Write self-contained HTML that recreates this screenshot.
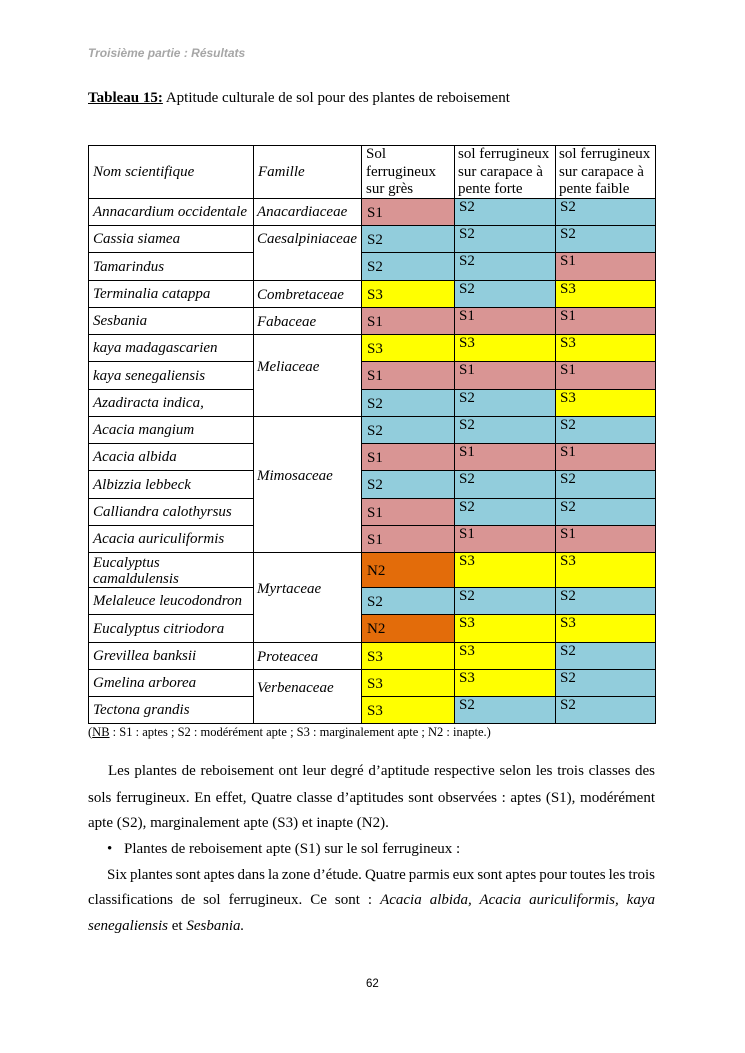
<!DOCTYPE html>
<html><head><meta charset="utf-8">
<style>
html,body{margin:0;padding:0;background:#fff;}
body{width:745px;height:1053px;position:relative;overflow:hidden;font-family:"Liberation Serif",serif;color:#000;}
.c{position:absolute;box-sizing:border-box;border:1px solid #000;font-size:15px;}
.n{display:flex;align-items:center;padding-left:4px;padding-top:1px;font-style:italic;white-space:nowrap;line-height:15px;}
.m{display:flex;align-items:center;padding-left:5px;padding-top:1px;white-space:nowrap;line-height:16px;}
.p{padding-left:4px;padding-top:0px;white-space:nowrap;line-height:16px;}
.s1{background:#D99594;}
.s2{background:#92CDDC;}
.s3{background:#FFFF00;}
.n2{background:#E36C0A;}
.f{position:absolute;left:257px;font-size:15px;font-style:italic;white-space:nowrap;line-height:16px;}
.ln{position:absolute;font-size:15px;line-height:26px;white-space:nowrap;}
.j{text-align:justify;text-align-last:justify;}
</style></head>
<body>
<div style="position:absolute;left:88px;top:46px;font-family:'Liberation Sans',sans-serif;font-size:12px;font-weight:bold;font-style:italic;color:#a6a6a6;white-space:nowrap;">Troisième partie : Résultats</div>

<div style="position:absolute;left:88px;top:89px;font-size:15px;white-space:nowrap;line-height:18px;"><b><u>Tableau 15:</u></b> Aptitude culturale de sol pour des plantes de reboisement</div>

<!-- header -->
<div class="c" style="left:88px;top:145px;width:166px;height:54px;display:flex;align-items:center;padding-left:4px;font-style:italic;">Nom scientifique</div>
<div class="c" style="left:253px;top:145px;width:109px;height:54px;display:flex;align-items:center;padding-left:4px;font-style:italic;">Famille</div>
<div class="c" style="left:361px;top:145px;width:94px;height:54px;padding-left:4px;line-height:17.5px;">Sol<br>ferrugineux<br>sur grès</div>
<div class="c" style="left:454px;top:145px;width:102px;height:54px;padding-left:3px;line-height:17.5px;white-space:nowrap;">sol ferrugineux<br>sur carapace à<br>pente forte</div>
<div class="c" style="left:555px;top:145px;width:101px;height:54px;padding-left:3px;line-height:17.5px;white-space:nowrap;">sol ferrugineux<br>sur carapace à<br>pente faible</div>

<!-- rows -->
<div class="c n" style="left:88px;top:198px;width:166px;height:28px;">Annacardium occidentale</div>
<div class="c m s1" style="left:361px;top:198px;width:94px;height:28px;">S1</div>
<div class="c p s2" style="left:454px;top:198px;width:102px;height:28px;">S2</div>
<div class="c p s2" style="left:555px;top:198px;width:101px;height:28px;">S2</div>

<div class="c n" style="left:88px;top:225px;width:166px;height:28px;">Cassia siamea</div>
<div class="c m s2" style="left:361px;top:225px;width:94px;height:28px;">S2</div>
<div class="c p s2" style="left:454px;top:225px;width:102px;height:28px;">S2</div>
<div class="c p s2" style="left:555px;top:225px;width:101px;height:28px;">S2</div>

<div class="c n" style="left:88px;top:252px;width:166px;height:29px;">Tamarindus</div>
<div class="c m s2" style="left:361px;top:252px;width:94px;height:29px;">S2</div>
<div class="c p s2" style="left:454px;top:252px;width:102px;height:29px;">S2</div>
<div class="c p s1" style="left:555px;top:252px;width:101px;height:29px;">S1</div>

<div class="c n" style="left:88px;top:280px;width:166px;height:28px;">Terminalia catappa</div>
<div class="c m s3" style="left:361px;top:280px;width:94px;height:28px;">S3</div>
<div class="c p s2" style="left:454px;top:280px;width:102px;height:28px;">S2</div>
<div class="c p s3" style="left:555px;top:280px;width:101px;height:28px;">S3</div>

<div class="c n" style="left:88px;top:307px;width:166px;height:28px;">Sesbania</div>
<div class="c m s1" style="left:361px;top:307px;width:94px;height:28px;">S1</div>
<div class="c p s1" style="left:454px;top:307px;width:102px;height:28px;">S1</div>
<div class="c p s1" style="left:555px;top:307px;width:101px;height:28px;">S1</div>

<div class="c n" style="left:88px;top:334px;width:166px;height:28px;">kaya madagascarien</div>
<div class="c m s3" style="left:361px;top:334px;width:94px;height:28px;">S3</div>
<div class="c p s3" style="left:454px;top:334px;width:102px;height:28px;">S3</div>
<div class="c p s3" style="left:555px;top:334px;width:101px;height:28px;">S3</div>

<div class="c n" style="left:88px;top:361px;width:166px;height:29px;">kaya senegaliensis</div>
<div class="c m s1" style="left:361px;top:361px;width:94px;height:29px;">S1</div>
<div class="c p s1" style="left:454px;top:361px;width:102px;height:29px;">S1</div>
<div class="c p s1" style="left:555px;top:361px;width:101px;height:29px;">S1</div>

<div class="c n" style="left:88px;top:389px;width:166px;height:28px;">Azadiracta indica,</div>
<div class="c m s2" style="left:361px;top:389px;width:94px;height:28px;">S2</div>
<div class="c p s2" style="left:454px;top:389px;width:102px;height:28px;">S2</div>
<div class="c p s3" style="left:555px;top:389px;width:101px;height:28px;">S3</div>

<div class="c n" style="left:88px;top:416px;width:166px;height:28px;">Acacia mangium</div>
<div class="c m s2" style="left:361px;top:416px;width:94px;height:28px;">S2</div>
<div class="c p s2" style="left:454px;top:416px;width:102px;height:28px;">S2</div>
<div class="c p s2" style="left:555px;top:416px;width:101px;height:28px;">S2</div>

<div class="c n" style="left:88px;top:443px;width:166px;height:28px;">Acacia albida</div>
<div class="c m s1" style="left:361px;top:443px;width:94px;height:28px;">S1</div>
<div class="c p s1" style="left:454px;top:443px;width:102px;height:28px;">S1</div>
<div class="c p s1" style="left:555px;top:443px;width:101px;height:28px;">S1</div>

<div class="c n" style="left:88px;top:470px;width:166px;height:29px;">Albizzia lebbeck</div>
<div class="c m s2" style="left:361px;top:470px;width:94px;height:29px;">S2</div>
<div class="c p s2" style="left:454px;top:470px;width:102px;height:29px;">S2</div>
<div class="c p s2" style="left:555px;top:470px;width:101px;height:29px;">S2</div>

<div class="c n" style="left:88px;top:498px;width:166px;height:28px;">Calliandra calothyrsus</div>
<div class="c m s1" style="left:361px;top:498px;width:94px;height:28px;">S1</div>
<div class="c p s2" style="left:454px;top:498px;width:102px;height:28px;">S2</div>
<div class="c p s2" style="left:555px;top:498px;width:101px;height:28px;">S2</div>

<div class="c n" style="left:88px;top:525px;width:166px;height:28px;">Acacia auriculiformis</div>
<div class="c m s1" style="left:361px;top:525px;width:94px;height:28px;">S1</div>
<div class="c p s1" style="left:454px;top:525px;width:102px;height:28px;">S1</div>
<div class="c p s1" style="left:555px;top:525px;width:101px;height:28px;">S1</div>

<div class="c" style="left:88px;top:552px;width:166px;height:36px;padding-left:4px;padding-top:2px;font-style:italic;line-height:16px;white-space:nowrap;">Eucalyptus<br>camaldulensis</div>
<div class="c m n2" style="left:361px;top:552px;width:94px;height:36px;">N2</div>
<div class="c p s3" style="left:454px;top:552px;width:102px;height:36px;">S3</div>
<div class="c p s3" style="left:555px;top:552px;width:101px;height:36px;">S3</div>

<div class="c n" style="left:88px;top:587px;width:166px;height:28px;">Melaleuce leucodondron</div>
<div class="c m s2" style="left:361px;top:587px;width:94px;height:28px;">S2</div>
<div class="c p s2" style="left:454px;top:587px;width:102px;height:28px;">S2</div>
<div class="c p s2" style="left:555px;top:587px;width:101px;height:28px;">S2</div>

<div class="c n" style="left:88px;top:614px;width:166px;height:29px;">Eucalyptus citriodora</div>
<div class="c m n2" style="left:361px;top:614px;width:94px;height:29px;">N2</div>
<div class="c p s3" style="left:454px;top:614px;width:102px;height:29px;">S3</div>
<div class="c p s3" style="left:555px;top:614px;width:101px;height:29px;">S3</div>

<div class="c n" style="left:88px;top:642px;width:166px;height:28px;">Grevillea banksii</div>
<div class="c m s3" style="left:361px;top:642px;width:94px;height:28px;">S3</div>
<div class="c p s3" style="left:454px;top:642px;width:102px;height:28px;">S3</div>
<div class="c p s2" style="left:555px;top:642px;width:101px;height:28px;">S2</div>

<div class="c n" style="left:88px;top:669px;width:166px;height:28px;">Gmelina arborea</div>
<div class="c m s3" style="left:361px;top:669px;width:94px;height:28px;">S3</div>
<div class="c p s3" style="left:454px;top:669px;width:102px;height:28px;">S3</div>
<div class="c p s2" style="left:555px;top:669px;width:101px;height:28px;">S2</div>

<div class="c n" style="left:88px;top:696px;width:166px;height:28px;">Tectona grandis</div>
<div class="c m s3" style="left:361px;top:696px;width:94px;height:28px;">S3</div>
<div class="c p s2" style="left:454px;top:696px;width:102px;height:28px;">S2</div>
<div class="c p s2" style="left:555px;top:696px;width:101px;height:28px;">S2</div>

<!-- family cells -->
<div class="c" style="left:253px;top:198px;width:109px;height:28px;"></div>
<div class="c" style="left:253px;top:225px;width:109px;height:56px;"></div>
<div class="c" style="left:253px;top:280px;width:109px;height:28px;"></div>
<div class="c" style="left:253px;top:307px;width:109px;height:28px;"></div>
<div class="c" style="left:253px;top:334px;width:109px;height:83px;"></div>
<div class="c" style="left:253px;top:416px;width:109px;height:137px;"></div>
<div class="c" style="left:253px;top:552px;width:109px;height:91px;"></div>
<div class="c" style="left:253px;top:642px;width:109px;height:28px;"></div>
<div class="c" style="left:253px;top:669px;width:109px;height:55px;"></div>

<div class="f" style="top:204px;">Anacardiaceae</div>
<div class="f" style="top:231px;">Caesalpiniaceae</div>
<div class="f" style="top:287px;">Combretaceae</div>
<div class="f" style="top:314px;">Fabaceae</div>
<div class="f" style="top:359px;">Meliaceae</div>
<div class="f" style="top:468px;">Mimosaceae</div>
<div class="f" style="top:581px;">Myrtaceae</div>
<div class="f" style="top:649px;">Proteacea</div>
<div class="f" style="top:680px;">Verbenaceae</div>

<div style="position:absolute;left:88px;top:725px;font-size:12.5px;line-height:14px;white-space:nowrap;">(<u>NB</u> : S1 : aptes ; S2 : modérément apte ; S3 : marginalement apte ; N2 : inapte.)</div>

<!-- paragraph -->
<div class="ln j" style="left:108px;width:547px;top:758px;">Les plantes de reboisement ont leur degré d’aptitude respective selon les trois classes des</div>
<div class="ln j" style="left:88px;width:567px;top:785px;">sols ferrugineux. En effet, Quatre classe d’aptitudes sont observées : aptes (S1), modérément</div>
<div class="ln" style="left:88px;top:810px;">apte (S2), marginalement apte (S3) et inapte (N2).</div>
<div class="ln" style="left:107px;top:836px;">•</div>
<div class="ln" style="left:124px;top:836px;">Plantes de reboisement apte (S1) sur le sol ferrugineux :</div>
<div class="ln j" style="left:107px;width:548px;top:862px;word-spacing:-3px;">Six plantes sont aptes dans la zone d’étude. Quatre parmis eux sont aptes pour toutes les trois</div>
<div class="ln j" style="left:88px;width:567px;top:887px;">classifications de sol ferrugineux. Ce sont : <i>Acacia albida, Acacia auriculiformis, kaya</i></div>
<div class="ln" style="left:88px;top:913px;"><i>senegaliensis</i> et <i>Sesbania.</i></div>

<div style="position:absolute;left:366px;top:977px;font-family:'Liberation Sans',sans-serif;font-size:11.5px;line-height:14px;">62</div>
</body></html>
